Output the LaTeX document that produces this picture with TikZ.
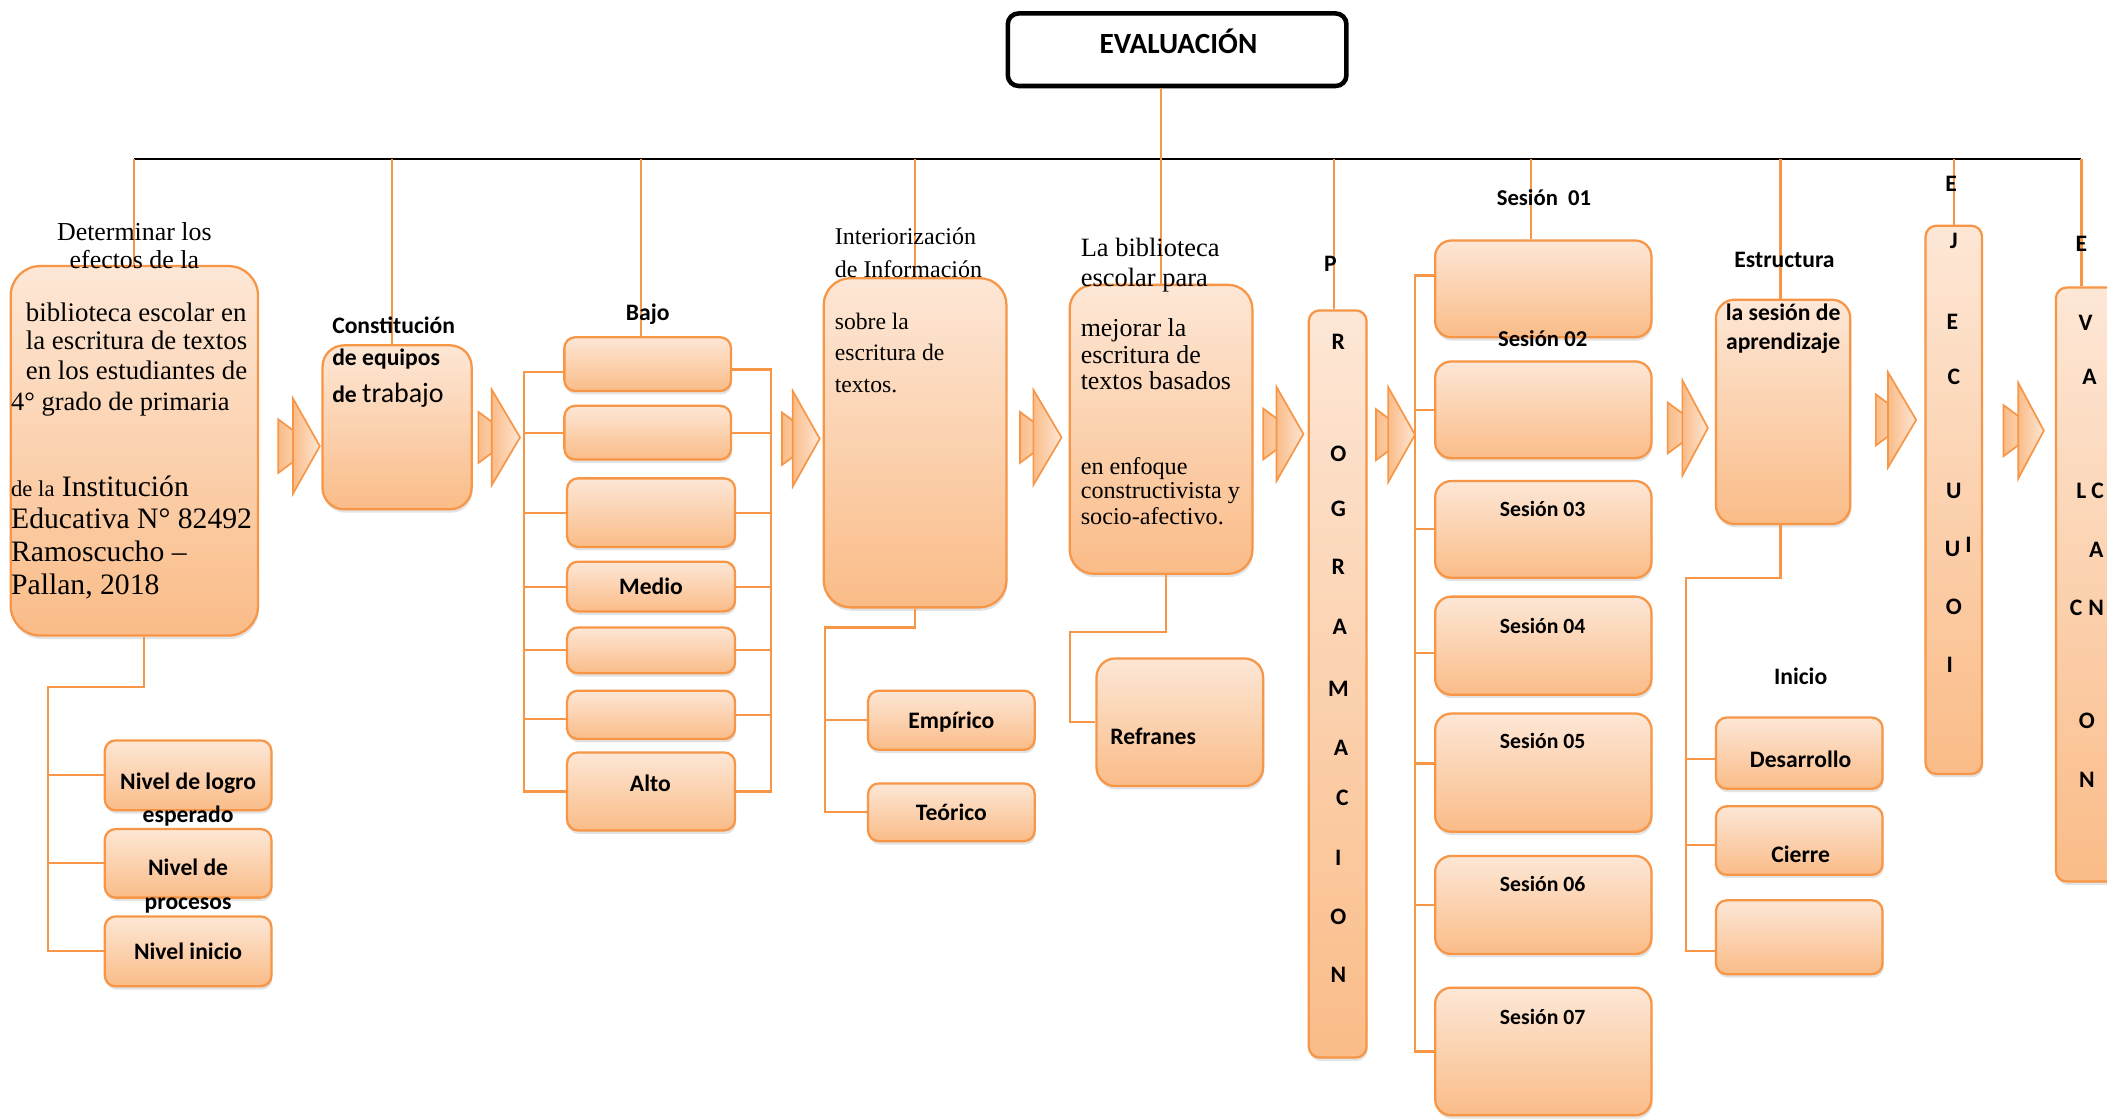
\documentclass[tikz,border=0pt]{standalone}
\usepackage{fontspec}
\setmainfont{Liberation Serif}
\setsansfont{Carlito}
\usetikzlibrary{shadows}

\definecolor{accent}{RGB}{247,150,70}
\definecolor{peachtop}{RGB}{253,231,214}
\definecolor{peachbot}{RGB}{250,188,136}

\tikzset{
  boxstyle/.style={draw=accent, line width=1.2pt, top color=peachtop, bottom color=peachbot,
    drop shadow={opacity=0.22, shadow xshift=0.5pt, shadow yshift=-1.8pt}},
  link/.style={draw=accent, line width=1.1pt},
  tx/.style={inner sep=0pt, text height=0.88em, text depth=0em},
  sb/.style={tx, font=\sffamily\bfseries\fontsize{12.5}{15}\selectfont},
  ses/.style={tx, font=\sffamily\bfseries\fontsize{11.5}{14}\selectfont},
  ser/.style={tx, font=\rmfamily\fontsize{#1}{#1}\selectfont},
  arrowpart/.style={draw=accent, line width=0.9pt, left color=peachbot, right color=peachtop},
}

% rounded box given by its corners: name, x1, y1, x2, y2, corner radius, text
\newcommand{\obox}[7]{%
  \node[boxstyle, sb, rounded corners=#6,
        minimum width={(#4-#2)*0.025cm}, minimum height={(#5-#3)*0.025cm}]
        (#1) at ({(#2+#4)/2},{(#3+#5)/2}) {#7};}

% process arrow: small back triangle plus large front triangle
% args: x small, x large, x tip, y centre, half height large, half height small
\newcommand{\chevron}[6]{%
  \draw[arrowpart] (#1,{#4-#6}) -- ({#1+1.35*#6},#4) -- (#1,{#4+#6}) -- cycle;
  \draw[arrowpart] (#2,{#4-#5}) -- (#3,#4) -- (#2,{#4+#5}) -- cycle;}

\begin{document}
\begin{tikzpicture}[x=0.025cm, y=-0.025cm]
\useasboundingbox (0,0) rectangle (1568,833);
\fill[white] (0,0) rectangle (1568,833);
\clip (0,0) rectangle (1568,833);

% ---------- title ----------
\node[draw=black, line width=2.4pt, rounded corners=0.2cm, fill=white,
      minimum width={252*0.025cm}, minimum height={54*0.025cm}] (title) at (876,37) {};

% ---------- boxes ----------
\obox{bA}{8}{198}{192}{473}{0.55cm}{}
\obox{bB}{240}{257}{351}{379}{0.4cm}{}

\obox{j1}{420}{251}{544}{291}{0.2cm}{}
\obox{j2}{420}{302}{544}{342}{0.2cm}{}
\obox{j3}{422}{356}{547}{407}{0.2cm}{}
\obox{j4}{422}{418}{547}{455}{0.2cm}{Medio}
\obox{j5}{422}{467}{547}{501}{0.2cm}{}
\obox{j6}{422}{514}{547}{550}{0.2cm}{}
\obox{j7}{422}{560}{547}{618}{0.2cm}{}

\obox{n1}{78}{551}{202}{603}{0.2cm}{}
\obox{n2}{78}{617}{202}{668}{0.2cm}{}
\obox{n3}{78}{682}{202}{734}{0.2cm}{Nivel inicio}

\obox{int}{613}{207}{749}{452}{0.5cm}{}
\obox{emp}{646}{514}{770}{558}{0.2cm}{Empírico}
\obox{teo}{646}{583}{770}{626}{0.2cm}{Teórico}

\obox{bib}{796}{212}{932}{427}{0.45cm}{}
\obox{ref}{816}{490}{940}{585}{0.35cm}{}

\obox{prog}{974}{231}{1017}{787}{0.2cm}{}

\obox{s1}{1068}{179}{1229}{251}{0.3cm}{}
\obox{s2}{1068}{269}{1229}{341}{0.3cm}{}
\obox{s3}{1068}{358}{1229}{430}{0.3cm}{}
\obox{s4}{1068}{444}{1229}{517}{0.3cm}{}
\obox{s5}{1068}{531}{1229}{619}{0.3cm}{}
\obox{s6}{1068}{637}{1229}{710}{0.3cm}{}
\obox{s7}{1068}{735}{1229}{830}{0.3cm}{}

\obox{estr}{1277}{223}{1377}{390}{0.35cm}{}
\obox{d1}{1277}{534}{1401}{587}{0.2cm}{}
\obox{d2}{1277}{600}{1401}{651}{0.2cm}{}
\obox{d3}{1277}{670}{1401}{725}{0.2cm}{}

\obox{ejec}{1433}{168}{1475}{576}{0.2cm}{}
\obox{evb}{1530}{214}{1600}{656}{0.2cm}{}

% ---------- process arrows ----------
\chevron{207}{218}{238}{332}{35.5}{20}
\chevron{356}{366}{387}{325.5}{35.5}{19}
\chevron{582}{590}{610}{326.5}{35.5}{19.5}
\chevron{759}{769}{790}{325.5}{35.5}{19}
\chevron{940}{950}{970}{323}{35}{19}
\chevron{1024}{1033}{1053}{323.5}{35.5}{19}
\chevron{1241}{1252}{1271}{318.5}{35.5}{19}
\chevron{1396}{1405}{1426}{312.5}{35.5}{19}
\chevron{1491}{1502}{1521}{320.5}{35.5}{19}

% ---------- main bar and drops ----------
\coordinate (hl) at (100,118);
\coordinate (hr) at (1549,118);
\draw[black, line width=1pt] (hl) -- (hr);

\coordinate (dA) at (100,118);
\coordinate (dB) at (292,118);
\coordinate (dJ) at (477,118);
\coordinate (dI) at (681,118);
\coordinate (dP) at (993,118);
\coordinate (dS) at (1139,118);
\coordinate (dE) at (1325,118);
\coordinate (dX) at (1454,118);
\coordinate (dV) at (1549,118);
\draw[link] (dA) -- (dA |- bA.north);
\draw[link] (dB) -- (dB |- bB.north);
\draw[link] (dJ) -- (dJ |- j1.north);
\draw[link] (dI) -- (dI |- int.north);
\draw[link] (dP) -- (dP |- prog.north);
\draw[link] (dS) -- (dS |- s1.north);
\draw[link] (dE) -- (dE |- estr.north);
\draw[link] (dX) -- (dX |- ejec.north);
\draw[link] (dV) -- (dV |- evb.north);
\draw[link] (title.south -| bib.north) -- (bib.north);

% ---------- tree under the first box ----------
\coordinate (tA) at (36,511);
\draw[link] ([xshift=0.175cm]bA.south) |- (tA) |- (n3.west);
\draw[link] (tA) |- (n1.west);
\draw[link] (tA) |- (n2.west);

% ---------- brackets of the level column ----------
\coordinate (bjL) at (390,0);
\coordinate (bjR) at (574,0);
\draw[link] ([yshift=-0.15cm]j1.west) -| (bjL |- j7.west) -- (j7.west);
\draw[link] (j2.west) -- (j2.west -| bjL);
\draw[link] (j3.west) -- (j3.west -| bjL);
\draw[link] (j4.west) -- (j4.west -| bjL);
\draw[link] (j5.west) -- (j5.west -| bjL);
\draw[link] ([yshift=-0.07cm]j6.west) -- ++(-32,0);
\draw[link] ([yshift=-0.1cm]j1.east) -| (bjR |- j7.east) -- (j7.east);
\draw[link] (j2.east) -- (j2.east -| bjR);
\draw[link] (j3.east) -- (j3.east -| bjR);
\draw[link] (j4.east) -- (j4.east -| bjR);
\draw[link] (j5.east) -- (j5.east -| bjR);
\draw[link] (j6.east) -- (j6.east -| bjR);

% ---------- tree under the information box ----------
\coordinate (tI) at (614,467);
\draw[link] (int.south) |- (tI) |- (teo.west);
\draw[link] (tI) |- (emp.west);

% ---------- tree under the library box ----------
\coordinate (tB) at (796,470);
\draw[link] ([xshift=0.1cm]bib.south) |- (tB) |- (ref.west);

% ---------- bracket of the sessions ----------
\coordinate (tS) at (1053,0);
\draw[link] ([yshift=0.25cm]s1.west) -| (tS |- s7.west) -- (s7.west);
\draw[link] (s2.west) -- ++(-15,0);
\draw[link] (s3.west) -- ++(-15,0);
\draw[link] ([yshift=-0.14cm]s4.west) -- ++(-15,0);
\draw[link] ([yshift=0.17cm]s5.west) -- ++(-15,0);
\draw[link] (s6.west) -- ++(-15,0);

% ---------- tree under the structure box ----------
\coordinate (tE) at (1255,430);
\draw[link] ([xshift=-0.05cm]estr.south) |- (tE) |- ([yshift=-0.26cm]d3.west);
\draw[link] ([yshift=-0.11cm]d1.west) -- ++(-22,0);
\draw[link] ([yshift=-0.09cm]d2.west) -- ++(-22,0);

% ---------- texts ----------
\node[sb, font=\sffamily\bfseries\fontsize{15.5}{18}\selectfont] (ttl) at (877,34) {EVALUACIÓN};

% first box
\node[ser=13.7] (a1) at (100,173) {Determinar los};
\node[ser=13.7] (a2) at (100,194) {efectos de la};
\node[ser=14.2, anchor=west] (a3) at (19,233) {biblioteca escolar en};
\node[ser=14.2, anchor=west] (a4) at (19,254) {la escritura de textos};
\node[ser=14.2, anchor=west] (a5) at (19,276) {en los estudiantes de};
\node[ser=14, anchor=west] (a6) at (8,299) {4° grado de primaria};
\node[ser=15.7, anchor=west] (a7) at (8,363) {{\fontsize{12}{12}\selectfont de la} Institución};
\node[ser=15.7, anchor=west] (a8) at (8,387) {Educativa N° 82492};
\node[ser=15.7, anchor=west] (a9) at (8,412) {Ramoscucho –};
\node[ser=15.7, anchor=west] (a10) at (8,436) {Pallan, 2018};

\node[sb] (nl1) at (140,581) {Nivel de logro};
\node[sb] (nl2) at (140,606) {esperado};
\node[sb] (nl3) at (140,645) {Nivel de};
\node[sb] (nl4) at (140,671) {procesos};

% team box
\node[sb, anchor=west] (c1) at (247,242) {Constitución};
\node[sb, anchor=west] (c2) at (247,266) {de equipos};
\node[sb, anchor=west] (c3) at (247,293) {de {\mdseries\fontsize{14.8}{15}\selectfont trabajo}};

% level column
\node[sb] (lb) at (482,232) {Bajo};
\node[sb] (la) at (484,583) {Alto};

% information box
\node[ser=12.7, anchor=west] (i1) at (621,176) {Interiorización};
\node[ser=12.7, anchor=west] (i2) at (621,200) {de Información};
\node[ser=12.5, anchor=west] (i3) at (621,239) {sobre la};
\node[ser=12.5, anchor=west] (i4) at (621,262) {escritura de};
\node[ser=12.5, anchor=west] (i5) at (621,286) {textos.};

% library box
\node[ser=14, anchor=west] (l1) at (804,185) {La biblioteca};
\node[ser=14, anchor=west] (l2) at (804,207) {escolar para};
\node[ser=13.7, anchor=west] (l3) at (804,244) {mejorar la};
\node[ser=13.7, anchor=west] (l4) at (804,264) {escritura de};
\node[ser=13.7, anchor=west] (l5) at (804,284) {textos basados};
\node[ser=12.8, anchor=west] (l6) at (804,347) {en enfoque};
\node[ser=12.8, anchor=west] (l7) at (804,365) {constructivista y};
\node[ser=12.8, anchor=west] (l8) at (804,384) {socio-afectivo.};
\node[sb, anchor=west] (rf) at (826,548) {Refranes};

% programming bar
\node[sb] (p1) at (990,196) {P};
\node[sb] (p2) at (996,254) {R};
\node[sb] (p3) at (996,337) {O};
\node[sb] (p4) at (996,378) {G};
\node[sb] (p5) at (996,421) {R};
\node[sb] (p6) at (997,466) {A};
\node[sb] (p7) at (996,512) {M};
\node[sb] (p8) at (998,556) {A};
\node[sb] (p9) at (999,593) {C};
\node[sb] (p10) at (996,638) {I};
\node[sb] (p11) at (996,682) {O};
\node[sb] (p12) at (996,725) {N};

% sessions
\node[sb, font=\sffamily\bfseries\fontsize{12}{14}\selectfont] (st1) at (1149,147) {Sesión~~01};
\node[sb, font=\sffamily\bfseries\fontsize{12}{14}\selectfont] (st2) at (1148,252) {Sesión 02};
\node[ses] (st3) at (1148,378) {Sesión 03};
\node[ses] (st4) at (1148,465) {Sesión 04};
\node[ses] (st5) at (1148,551) {Sesión 05};
\node[ses] (st6) at (1148,657) {Sesión 06};
\node[ses] (st7) at (1148,756) {Sesión 07};

% structure box
\node[sb] (e1) at (1328,193) {Estructura};
\node[sb] (e2) at (1327,232) {la sesión de};
\node[sb] (e3) at (1327,254) {aprendizaje};
\node[sb] (e4) at (1340,503) {Inicio};
\node[sb] (e5) at (1340,565) {Desarrollo};
\node[sb] (e6) at (1340,636) {Cierre};

% execution bar
\node[sb] (x1) at (1452,136) {E};
\node[sb] (x2) at (1454,179) {J};
\node[sb] (x3) at (1453,239) {E};
\node[sb] (x4) at (1454,280) {C};
\node[sb] (x5) at (1454,365) {U};
\node[sb] (x6) at (1453,408) {U};
\node[sb] (x7) at (1465,405) {I};
\node[sb] (x8) at (1454,451) {O};
\node[sb] (x9) at (1451,494) {I};

% evaluation bar
\node[sb] (v1) at (1549,181) {E};
\node[sb] (v2) at (1552,240) {V};
\node[sb] (v3) at (1555,280) {A};
\node[sb] (v4) at (1549,365) {L};
\node[sb] (v5) at (1561,365) {C};
\node[sb] (v6) at (1560,409) {A};
\node[sb] (v7) at (1545,452) {C};
\node[sb] (v8) at (1560,452) {N};
\node[sb] (v9) at (1553,536) {O};
\node[sb] (v10) at (1553,580) {N};
\end{tikzpicture}
\end{document}
